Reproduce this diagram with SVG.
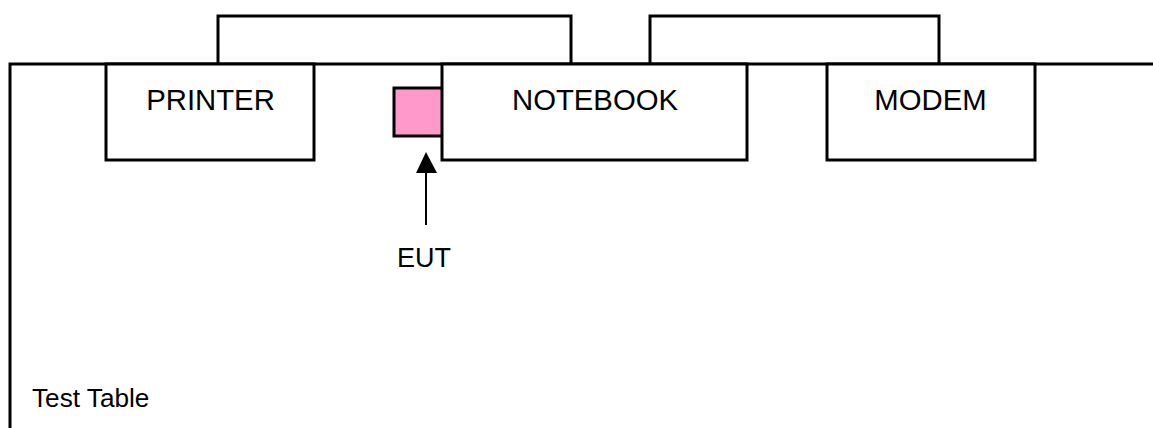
<svg xmlns="http://www.w3.org/2000/svg" width="1153" height="428" viewBox="0 0 1153 428">
<style>
.l{fill:none;stroke:#000;stroke-width:3}
.b{fill:#fff;stroke:#000;stroke-width:3}
text{font-family:"Liberation Sans",Arial,sans-serif;fill:#000}
.n{font-size:29.3px;text-anchor:middle}
.s{font-size:26.2px}
</style>
<rect width="1153" height="428" fill="#fff"/>
<g id="connectors">
<path class="l" d="M1153 64H10V428"/>
<path class="l" d="M218 64V16H571V64"/>
<path class="l" d="M650 64V16H939V64"/>
<path d="M426 225V172" fill="none" stroke="#000" stroke-width="2"/>
<path d="M426 152L437 173H416Z" fill="#000"/>
</g>
<g id="eut"><rect x="394" y="88" width="52" height="48" fill="#ff99cc" stroke="#000" stroke-width="3"/></g>
<g id="printer"><rect class="b" x="106" y="64" width="208" height="96"/><text class="n" x="210.500" y="110">PRINTER</text></g>
<g id="notebook"><rect class="b" x="442" y="64" width="305" height="96"/><text class="n" x="595" y="110">NOTEBOOK</text></g>
<g id="modem"><rect class="b" x="827" y="64" width="208" height="96"/><text class="n" x="930.500" y="110">MODEM</text></g>
<g id="eut-label"><text class="s" x="397" y="267" style="font-size:27px">EUT</text></g>
<g id="table-label"><text class="s" x="32" y="407">Test Table</text></g>
</svg>
